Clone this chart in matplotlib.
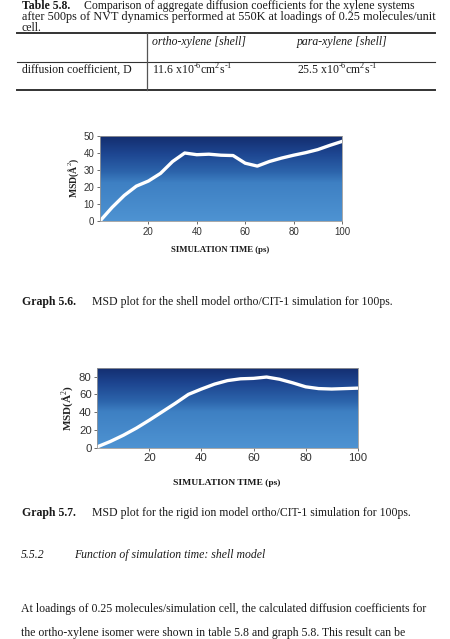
import numpy as np
import matplotlib
matplotlib.use("Agg")
import matplotlib.pyplot as plt
from matplotlib.colors import LinearSegmentedColormap

# graph 5.6: shell model
t_shell = [0, 5, 10, 15, 20, 25, 30, 35, 40, 45, 50, 55, 60, 65, 70, 75, 80, 85, 90, 95, 100]
msd_shell = [0, 8, 15, 20.5, 23.5, 28, 35, 40, 39, 39.3, 38.7, 38.5, 34, 32.3, 35, 37, 38.7, 40.2, 42, 44.5, 46.8]

# graph 5.7: rigid ion model
t_rigid = [0, 5, 10, 15, 20, 25, 30, 35, 40, 45, 50, 55, 60, 65, 70, 75, 80, 85, 90, 95, 100]
msd_rigid = [1, 7, 14, 22, 31, 40.5, 50, 60, 66, 71.5, 75.5, 77.5, 78, 79.5, 77, 73, 68.5, 66.5, 66, 66.5, 67]

xticks = [20, 40, 60, 80, 100]
yticks_shell = [0, 10, 20, 30, 40, 50]
yticks_rigid = [0, 20, 40, 60, 80]

table_cols = ["ortho-xylene [shell]", "para-xylene [shell]"]
table_row = "diffusion coefficient, D"
table_vals = [r"11.6 x10$^{\text{-6}}$cm$^{\text{2}}$s$^{\text{-1}}$", r"25.5 x10$^{\text{-6}}$cm$^{\text{2}}$s$^{\text{-1}}$"]

serif = "Liberation Serif"
sans = "Liberation Sans"
plt.rcParams["mathtext.fontset"] = "custom"
plt.rcParams["mathtext.rm"] = serif

W, H = 450, 639
fig = plt.figure(figsize=(4.5, 6.39), dpi=100)
fig.patch.set_facecolor("white")

bg = LinearSegmentedColormap.from_list(
    "bg", [(0, "#4e93d2"), (0.45, "#3e80c3"), (0.58, "#2c64ab"), (0.8, "#1d4590"), (1, "#132d6e")])


def px(x, y):
    return x / W, 1 - y / H


def txt(x, y, s, **kw):
    kw.setdefault("family", serif)
    kw.setdefault("fontsize", 8.5)
    fig.text(*px(x, y), s, va="center", color="#1a1a1a", **kw)


# page text above
txt(22, 6, "Table 5.8.", fontweight="bold")
txt(84, 6, "Comparison of aggregate diffusion coefficients for the xylene systems")
txt(22, 17, "after 500ps of NVT dynamics performed at 550K at loadings of 0.25 molecules/unit",
    fontsize=8.8)
txt(22, 28, "cell.")

# table
for yy, lw in [(33, 1.4), (62, 0.8), (90, 1.4)]:
    fig.add_artist(plt.Line2D([17 / W, 435 / W], [1 - yy / H] * 2, color="#333333", lw=lw))
fig.add_artist(plt.Line2D([147 / W] * 2, [1 - 33 / H, 1 - 90 / H], color="#555555", lw=0.9))
txt(152, 42, table_cols[0], style="italic")
txt(297, 42, table_cols[1], style="italic")
txt(22, 70, table_row)
txt(152, 70, table_vals[0])
txt(297, 70, table_vals[1])


def msd_axes(rect, t, msd, ymax, yticks, fs):
    ax = fig.add_axes(rect)
    ax.imshow(np.linspace(0, 1, 256).reshape(-1, 1), cmap=bg, origin="lower",
              aspect="auto", extent=[0, 100, 0, ymax], zorder=0)
    ax.plot(t, msd, color="white", lw=2.4, solid_joinstyle="round", zorder=2)
    ax.set_xlim(0, 100)
    ax.set_ylim(0, ymax)
    ax.set_xticks(xticks)
    ax.set_yticks(yticks)
    ax.tick_params(labelsize=fs, length=2, width=0.5, colors="#333333", pad=2)
    for lab in ax.get_xticklabels() + ax.get_yticklabels():
        lab.set_family(sans)
    for s in ax.spines.values():
        s.set_color("#999999")
        s.set_linewidth(0.6)
    return ax


# graph 5.6
ax1 = msd_axes([100 / W, 1 - 221 / H, 242 / W, 85 / H], t_shell, msd_shell, 50, yticks_shell, 7)
fig.text(*px(74, 178), "MSD(Å$^{\\text{2}}$)", family=serif, fontweight="bold", fontsize=7,
         rotation=90, ha="center", va="center", color="#222222")
txt(220, 250, "SIMULATION TIME (ps)", fontweight="bold", fontsize=6.3, ha="center")
txt(22, 302, "Graph 5.6.", fontweight="bold")
txt(92, 302, "MSD plot for the shell model ortho/CIT-1 simulation for 100ps.")

# graph 5.7
ax2 = msd_axes([97.3 / W, 1 - 447.7 / H, 260.4 / W, 80 / H], t_rigid, msd_rigid, 90, yticks_rigid, 8.2)
fig.text(*px(68, 408), "MSD(Å$^{\\text{2}}$)", family=serif, fontweight="bold", fontsize=8,
         rotation=90, ha="center", va="center", color="#222222")
txt(227, 483, "SIMULATION TIME (ps)", fontweight="bold", fontsize=6.8, ha="center")
txt(22, 513, "Graph 5.7.", fontweight="bold")
txt(92, 513, "MSD plot for the rigid ion model ortho/CIT-1 simulation for 100ps.")

# section text
txt(21, 555, "5.5.2", style="italic")
txt(74, 555, "Function of simulation time: shell model", style="italic")
txt(21, 609, "At loadings of 0.25 molecules/simulation cell, the calculated diffusion coefficients for")
txt(21, 633, "the ortho-xylene isomer were shown in table 5.8 and graph 5.8. This result can be")

fig.savefig("out.png", dpi=100)
